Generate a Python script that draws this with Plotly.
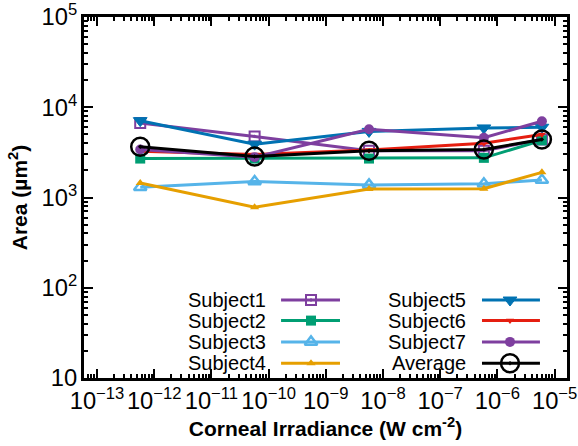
import plotly.graph_objects as go

# ---- data ----
irradiance = [5.7e-13, 5.7e-11, 5.7e-9, 5.8e-7, 6.0e-6]
subject1 = [6700, 4750, 3300, 3300, 4400]
subject2 = [2700, 2700, 2700, 2750, 4300]
subject3 = [1300, 1500, 1380, 1420, 1560]
subject4 = [1450, 780, 1240, 1250, 1900]
subject5 = [7100, 3900, 5400, 5900, 6000]
subject6 = [3250, 3000, 3350, 4000, 5000]
subject7 = [3400, 2800, 5700, 4600, 7000]
average = [3650, 2850, 3300, 3400, 4400]

names = ["Subject1", "Subject2", "Subject3", "Subject4",
         "Subject5", "Subject6", "Subject7", "Average"]
values = [subject1, subject2, subject3, subject4,
          subject5, subject6, subject7, average]

colors = ["#7e3f9f", "#009e73", "#56b4e9", "#e69f00",
          "#0072b2", "#e51e10", "#7e3f9f", "#000000"]
symbols = ["square-open-dot", "square", "triangle-up-open", "triangle-up",
           "triangle-down-dot", "triangle-down", "circle", "circle-open-dot"]
sizes = [10, 10, 11, 8, 12, 7, 10, 18]
mlw = [2, 0, 2.5, 0, 1, 0, 0, 2.5]

FONT = "Liberation Sans"

fig = go.Figure()

for n, v, c, s, sz, lw in zip(names, values, colors, symbols, sizes, mlw):
    fig.add_trace(go.Scatter(
        x=irradiance, y=v, mode="lines+markers", name=n,
        line=dict(color=c, width=3),
        marker=dict(symbol=s, size=sz, color=c,
                    line=dict(color=c, width=lw)),
        showlegend=False))

# ---- manual two-column legend (text left, sample right) ----
row_y = [0.216, 0.159, 0.100, 0.041]
cols = [dict(text_x=0.381, l0=0.408, l1=0.530, m=0.470),
        dict(text_x=0.795, l0=0.824, l1=0.944, m=0.882)]
for i, (n, c, s, sz, lw) in enumerate(zip(names, colors, symbols, sizes, mlw)):
    col = cols[i // 4]
    yy = row_y[i % 4]
    fig.add_trace(go.Scatter(
        x=[col["l0"], col["l1"]], y=[yy, yy], mode="lines",
        line=dict(color=c, width=3), xaxis="x2", yaxis="y2",
        showlegend=False, hoverinfo="skip"))
    fig.add_trace(go.Scatter(
        x=[col["m"]], y=[yy], mode="markers",
        marker=dict(symbol=s, size=sz, color=c,
                    line=dict(color=c, width=lw)),
        xaxis="x2", yaxis="y2", showlegend=False, hoverinfo="skip"))
    fig.add_annotation(x=col["text_x"], y=yy, xref="x2", yref="y2",
                       text=n, showarrow=False, xanchor="right",
                       yanchor="middle",
                       font=dict(family=FONT, size=20, color="black"))

axis_common = dict(
    type="log", showline=True, linecolor="black", linewidth=3,
    mirror="allticks", ticks="inside", ticklen=9, tickwidth=2,
    tickcolor="black", showgrid=False, zeroline=False,
    exponentformat="power", dtick=1, automargin=False,
    tickfont=dict(family=FONT, size=19, color="black"),
    minor=dict(ticks="inside", ticklen=4, tickwidth=1.5,
               tickcolor="black", dtick="D1", showgrid=False),
)

fig.update_layout(
    width=578, height=446,
    margin=dict(l=84, r=11, t=17, b=68),
    paper_bgcolor="white", plot_bgcolor="white",
    xaxis=dict(axis_common, range=[-13.227, -4.783],
               title=dict(text="<b>Corneal Irradiance (W cm<sup>-2</sup>)</b>",
                          font=dict(family=FONT, size=21, color="black"),
                          standoff=9)),
    yaxis=dict(axis_common, range=[1, 5],
               title=dict(text="<b>Area (µm<sup>2</sup>)</b>",
                          font=dict(family=FONT, size=21, color="black"),
                          standoff=9)),
    xaxis2=dict(overlaying="x", range=[0, 1], visible=False),
    yaxis2=dict(overlaying="y", range=[0, 1], visible=False),
    showlegend=False,
)

fig.write_html("out.html")
